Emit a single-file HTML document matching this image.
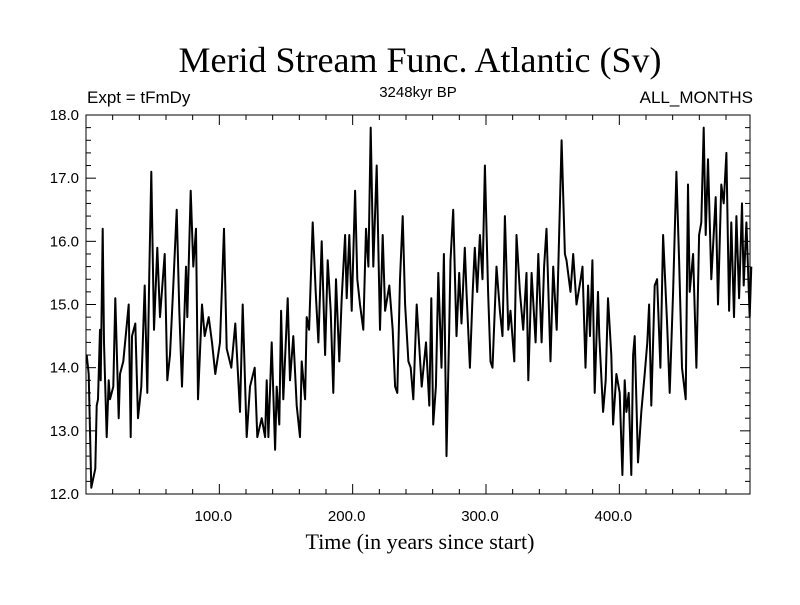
<!DOCTYPE html>
<html><head><meta charset="utf-8"><style>
body{margin:0;background:#fff}
svg text{fill:#000}
</style></head><body>
<svg id="chart" width="800" height="600" xmlns="http://www.w3.org/2000/svg">
<rect width="800" height="600" fill="#fff"/>
<text x="420" y="72" text-anchor="middle" font-family="Liberation Serif, serif" font-size="36">Merid Stream Func. Atlantic (Sv)</text>
<text x="87" y="103" font-family="Liberation Sans, sans-serif" font-size="17">Expt = tFmDy</text>
<text x="418" y="97" text-anchor="middle" font-family="Liberation Sans, sans-serif" font-size="15">3248kyr BP</text>
<text x="753" y="103" text-anchor="end" font-family="Liberation Sans, sans-serif" font-size="17">ALL_MONTHS</text>
<text x="420" y="549" text-anchor="middle" font-family="Liberation Serif, serif" font-size="22">Time (in years since start)</text>
<g id="axes"></g>
<path id="series" fill="none" stroke="#000" stroke-width="2" stroke-linejoin="round"/>
<rect x="86" y="115" width="664" height="379" fill="none" stroke="#000" stroke-width="1"/>
</svg>
<script>
const years=[0.5,2,4,7,8,9,10.5,11,12.5,13.5,15.5,17,18,20.5,22,24.5,25.5,28,32,33.5,34.5,37,39,41.5,44,46,47.5,49,51,53.5,55.5,59,61,63,65.5,68,70,72,75,76,78.5,80.5,82.5,84,87,89,92,94.5,97,100.5,103.5,105.5,109,112,115.5,117.5,120.5,123,126.5,128.5,131.8,134.3,135.5,136.8,139.3,141.8,143,145,146.3,148,151.3,153,155.5,158,160.5,161.8,164.3,165.5,167.3,170,172.3,174.3,176.8,179.3,181.3,183.5,185.5,187.5,190,191.8,194.3,195.5,197.5,199.3,201.8,203.5,205.5,208,210,211.8,213.5,215.5,218,220.5,222.5,224.3,227.5,230,231.8,233.5,235.5,237.5,239.3,241.8,243.5,245.5,248,251.8,255,257.5,259,260.4,262.4,264.2,266.6,268.4,270.4,272.4,273.4,275.4,277.9,279.9,281.6,284.1,285.4,287.9,290,291.6,293.4,295.4,297.4,299.2,301.6,303.4,304.9,307.9,310.4,312.4,314.2,316.7,318.4,321.2,322.9,325.4,327.9,330.4,331.7,334.2,337.2,339.2,341.7,343.6,345.4,348.4,350.4,353,355,356.7,359.2,360.4,363.4,365.4,367.9,371,372.4,374.6,376.6,378,379.8,381.5,384,385,387.8,389.8,391.5,394,395.3,397.8,400.3,402.3,404,405.3,407,409,410.3,411.5,414,416.5,419,421,422.3,424,426.5,428.3,430.8,432.8,435.8,437.8,440.3,442.8,444.8,447,449.8,451.5,452.8,455.3,457.8,459.8,461.5,463.3,464.8,466.5,469,472.3,474,476.5,478.3,480.3,482.3,484,486,487.8,489.8,492,493.3,495.3,497.8,499]
const values=[14.2,13.9,12.1,12.4,13.4,13.5,14.6,13.8,16.2,14.4,12.9,13.8,13.5,13.7,15.1,13.2,13.9,14.1,15.0,12.9,14.5,14.7,13.2,13.7,15.3,13.6,15.5,17.1,14.6,15.9,14.8,15.8,13.8,14.2,15.3,16.5,14.9,13.7,15.6,14.8,16.8,15.6,16.2,13.5,15.0,14.5,14.8,14.4,13.9,14.4,16.2,14.3,14.0,14.7,13.3,15.0,12.9,13.7,14.0,12.9,13.2,12.9,13.8,12.9,14.4,12.7,13.7,13.1,14.9,13.5,15.1,13.8,14.5,13.4,12.9,14.1,13.5,14.8,14.6,16.3,15.2,14.4,16.0,14.2,15.7,14.9,13.6,15.4,14.1,15.1,16.1,15.1,16.1,14.9,16.8,15.4,15.0,14.6,16.2,15.6,17.8,15.6,17.2,14.6,16.1,14.9,15.3,14.6,13.7,13.6,15.4,16.4,15.0,14.1,14.0,13.5,15.0,13.7,14.4,13.4,15.1,13.1,13.7,15.5,14.0,15.8,12.6,14.6,15.7,16.5,14.5,15.5,14.7,15.9,15.2,14.0,15.2,15.9,15.2,16.1,15.4,17.2,15.2,14.1,14.0,15.6,14.9,14.5,16.4,14.6,14.9,14.1,16.1,15.2,14.6,15.5,13.8,15.5,14.4,15.8,14.4,15.6,16.2,14.1,15.6,14.6,16.2,17.6,15.8,15.7,15.2,15.8,15.0,15.4,15.6,14.0,15.3,14.5,15.7,13.6,15.2,14.5,13.3,13.8,15.1,14.2,13.1,13.9,13.6,12.3,13.8,13.3,13.6,12.3,14.2,14.5,12.5,13.3,13.9,14.4,15.0,13.4,15.3,15.4,14.0,16.1,14.7,13.6,15.2,17.1,15.7,14.0,13.5,16.9,15.2,15.8,14.0,16.1,16.3,17.8,16.1,17.3,15.4,16.7,15.0,16.9,16.6,17.4,14.9,16.3,14.8,16.4,15.1,16.6,15.3,16.3,14.8,15.6,14.0]
const yTicks=[12.0,13.0,14.0,15.0,16.0,17.0,18.0];
const xTicks=[100,200,300,400];
const X0=86,X1=750,Y0=494,Y1=115;
const XMIN=0,XMAX=498,YMIN=12,YMAX=18;
function sx(v){return X0+(v-XMIN)/(XMAX-XMIN)*(X1-X0);}
function sy(v){return Y0-(v-YMIN)/(YMAX-YMIN)*(Y0-Y1);}
const NS='http://www.w3.org/2000/svg';
const axes=document.getElementById('axes');
function line(x1,y1,x2,y2,name){const l=document.createElementNS(NS,'line');
l.setAttribute('x1',x1);l.setAttribute('y1',y1);l.setAttribute('x2',x2);l.setAttribute('y2',y2);
l.setAttribute('stroke','#000');l.setAttribute('stroke-width','1');


axes.appendChild(l);}
function txt(x,y,s,anchor,name){const t=document.createElementNS(NS,'text');
t.setAttribute('x',x);t.setAttribute('y',y);t.setAttribute('text-anchor',anchor);
t.setAttribute('font-family','Liberation Sans, sans-serif');t.setAttribute('font-size','15');t.textContent=s;


axes.appendChild(t);}
for(let v=12;v<=18.001;v+=0.2){const y=sy(v);const major=Math.abs(v-Math.round(v))<0.01;const L=major?10:5;
line(X0,y,X0+L,y,'y-tick');line(X1,y,X1-L,y,'y-tick-right');}
yTicks.forEach(v=>txt(79,sy(v)+5,v.toFixed(1),'end','y-tick-label'));
for(let v=20;v<XMAX;v+=20){const x=sx(v);const major=v%100===0;const L=major?10:5;
line(x,Y0,x,Y0-L,'x-tick');line(x,Y1,x,Y1+L,'x-tick-top');}
xTicks.forEach(v=>txt(sx(v)-6,521,v.toFixed(1),'middle','x-tick-label'));
let d='';years.forEach((yr,i)=>{d+=(i?'L':'M')+sx(yr).toFixed(1)+','+sy(values[i]).toFixed(1);});
document.getElementById('series').setAttribute('d',d);
</script>
</body></html>
